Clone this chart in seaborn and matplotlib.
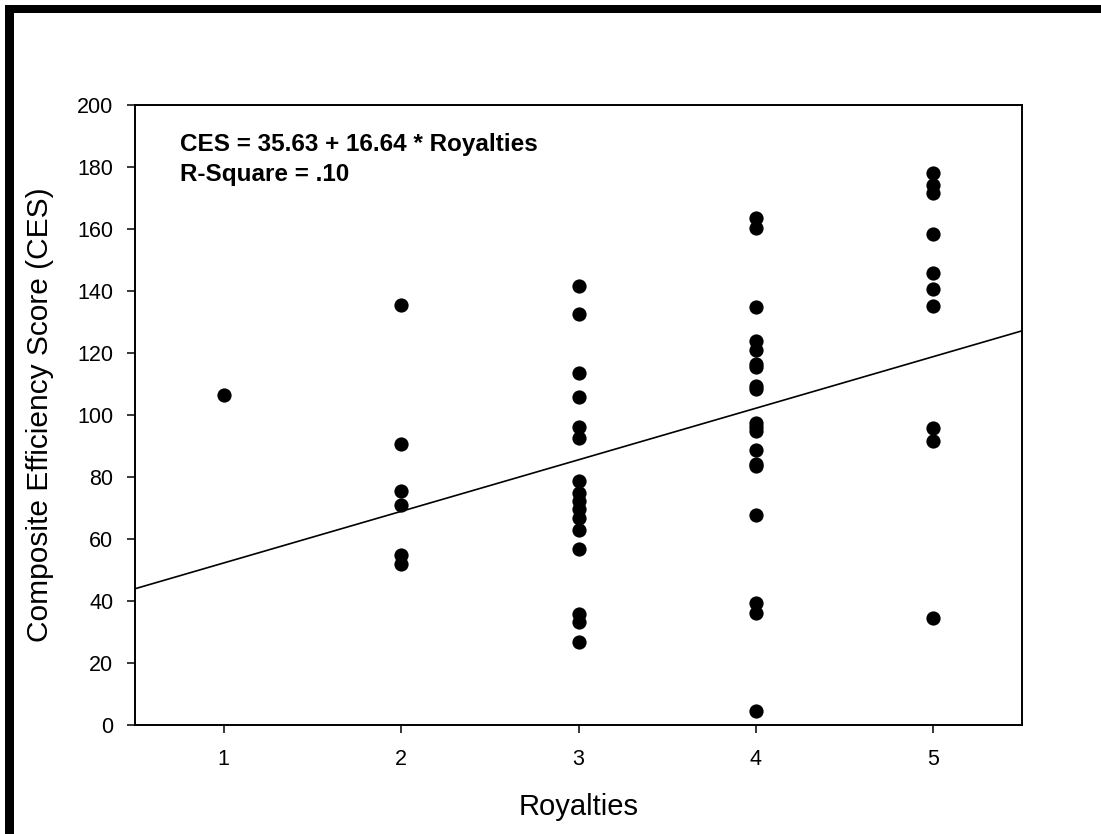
import matplotlib
matplotlib.use("Agg")
import matplotlib.pyplot as plt
from matplotlib.patches import Rectangle
import numpy as np
import pandas as pd
import seaborn as sns

# ---- data ----
royalties_1 = [1]
ces_1 = [106.5]
royalties_2 = [2] * 6
ces_2 = [135.6, 90.7, 75.6, 70.9, 55.0, 51.8]
royalties_3 = [3] * 16
ces_3 = [141.7, 132.5, 113.6, 105.7, 96.0, 92.6, 78.6, 74.7, 72.2, 69.6,
         66.7, 62.9, 56.9, 35.9, 33.3, 26.9]
royalties_4 = [4] * 19
ces_4 = [163.6, 160.2, 134.9, 124.0, 121.0, 116.5, 115.5, 109.5, 108.5, 97.5,
         96.0, 95.0, 88.8, 84.3, 83.5, 67.7, 39.5, 36.0, 4.6]
royalties_5 = [5] * 10
ces_5 = [178.0, 174.2, 171.6, 158.5, 145.8, 140.7, 135.1, 95.8, 91.7, 34.6]

intercept = 35.63
slope = 16.64
x_range = [0.5, 5.5]
x_ticks = [1, 2, 3, 4, 5]
y_ticks = [0, 20, 40, 60, 80, 100, 120, 140, 160, 180, 200]
eq_text = "CES = 35.63 + 16.64 * Royalties"
r2_text = "R-Square = .10"

df = pd.DataFrame({
    "Royalties": royalties_1 + royalties_2 + royalties_3 + royalties_4 + royalties_5,
    "CES": ces_1 + ces_2 + ces_3 + ces_4 + ces_5,
})
line_df = pd.DataFrame({"Royalties": x_range,
                        "CES": [intercept + slope * v for v in x_range]})

sns.set_theme(style="white")
plt.rcParams["font.family"] = ["Liberation Sans", "DejaVu Sans"]

fig = plt.figure(figsize=(11.01, 8.34), dpi=100)
ax = fig.add_axes([135 / 1101, 1 - 725 / 834, (1022 - 135) / 1101, (725 - 105) / 834])

sns.scatterplot(data=df, x="Royalties", y="CES", ax=ax, color="black",
                s=105, linewidth=0, zorder=3)
sns.lineplot(data=line_df, x="Royalties", y="CES", ax=ax, color="black",
             linewidth=1.2, zorder=2)

ax.set_xlim(*x_range)
ax.set_ylim(0, 200)
ax.set_xticks(x_ticks)
ax.set_yticks(y_ticks)
ax.tick_params(axis="both", direction="out", length=6, width=1.1,
               colors="black", labelsize=15.5,
               bottom=True, left=True, top=False, right=False)
ax.tick_params(axis="y", pad=9.5)
ax.tick_params(axis="x", pad=11)
for sp in ax.spines.values():
    sp.set_color("black")
    sp.set_linewidth(1.4)

ax.set_xlabel("Royalties", fontsize=21, color="black", labelpad=17)
ax.set_ylabel("Composite Efficiency Score (CES)", fontsize=21.5, color="black", labelpad=17)

ax.text(0.754, 185.2, eq_text, fontsize=17.5, fontweight="bold", va="baseline",
        ha="left", color="black")
ax.text(0.754, 175.6, r2_text, fontsize=17.5, fontweight="bold", va="baseline",
        ha="left", color="black")

# black frame remnants (top and left)
fig.add_artist(Rectangle((5 / 1101, 1 - 13 / 834), 1 - 5 / 1101, 8 / 834,
                         transform=fig.transFigure, color="black", lw=0))
fig.add_artist(Rectangle((5 / 1101, 0), 9 / 1101, 1 - 5 / 834,
                         transform=fig.transFigure, color="black", lw=0))

fig.savefig("out.png", dpi=100, facecolor="white")
